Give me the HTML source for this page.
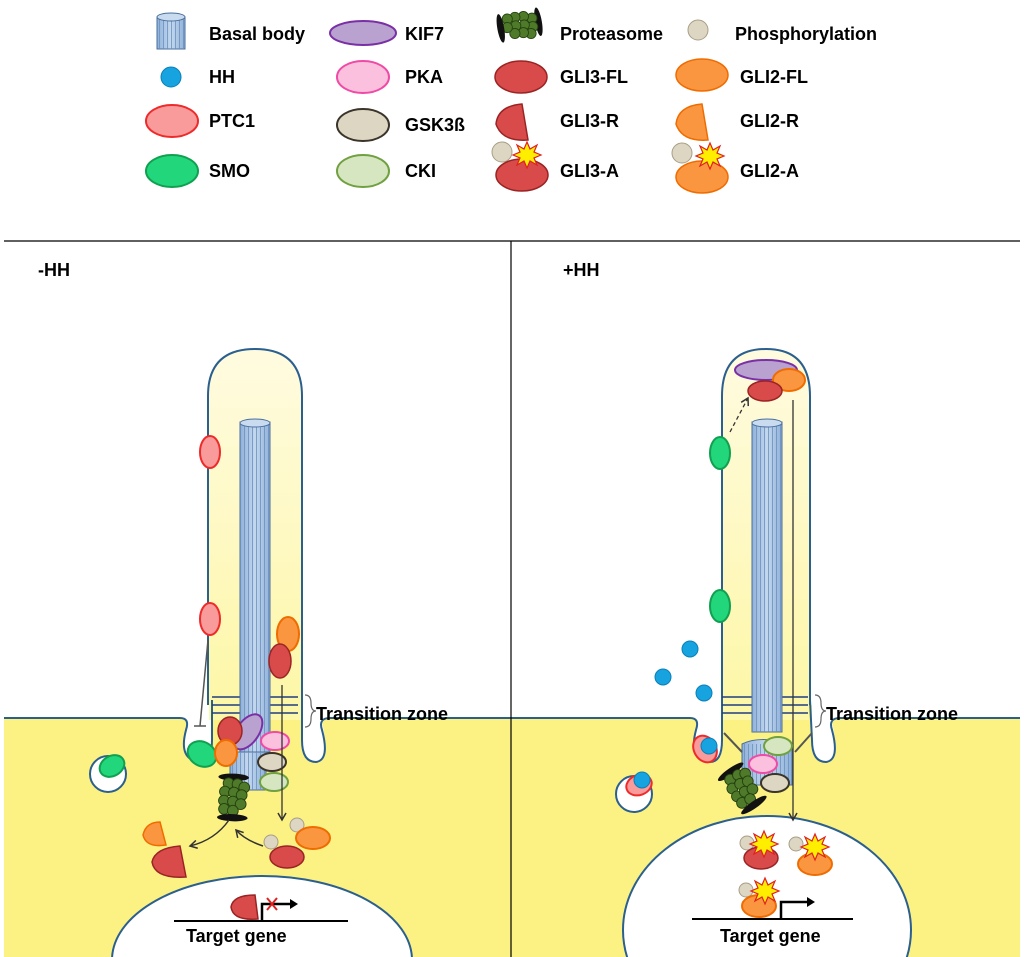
<!DOCTYPE html>
<html><head><style>
html,body{margin:0;background:#fff;overflow:hidden;width:1024px;height:957px}
svg{display:block;font-family:"Liberation Sans",sans-serif}
.t{font-weight:bold;font-size:18px;fill:#000}
</style></head><body>
<svg width="1024" height="957" viewBox="0 0 1024 957">
<defs>
<linearGradient id="cg" x1="0" y1="0" x2="0" y2="1"><stop offset="0" stop-color="#fffbe0"/><stop offset="1" stop-color="#fdf7a8"/></linearGradient>
<linearGradient id="ax" x1="0" y1="0" x2="1" y2="0"><stop offset="0" stop-color="#8fb1d8"/><stop offset=".5" stop-color="#c4d8ee"/><stop offset="1" stop-color="#8fb1d8"/></linearGradient>
<pattern id="st" width="4" height="10" patternUnits="userSpaceOnUse"><line x1="0.5" y1="0" x2="0.5" y2="10" stroke="#6a8fbf" stroke-width="0.8"/></pattern>
<marker id="ar" markerWidth="10" markerHeight="10" refX="8" refY="5" orient="auto" markerUnits="userSpaceOnUse"><path d="M1,1 L8,5 L1,9" fill="none" stroke="#333" stroke-width="1.5"/></marker>
<g id="prot"><ellipse cx="0" cy="-22" rx="17" ry="4" fill="#111" transform="rotate(-10)"/>
<g fill="#4e7a2a" stroke="#24400f" stroke-width="1">
<circle cx="-8" cy="-14" r="6"/><circle cx="2" cy="-15" r="6"/><circle cx="10" cy="-13" r="6"/>
<circle cx="-10" cy="-4" r="6"/><circle cx="0" cy="-5" r="6"/><circle cx="9" cy="-4" r="6"/>
<circle cx="-9" cy="6" r="6"/><circle cx="1" cy="5" r="6"/><circle cx="10" cy="6" r="6"/>
<circle cx="-7" cy="15" r="6"/><circle cx="3" cy="15" r="6"/></g>
<ellipse cx="0" cy="23" rx="17" ry="4" fill="#111" transform="rotate(-10)"/></g>
<g id="star"><polygon points="0,-13 3,-6 10,-10 7,-3 14,0 7,3 10,10 3,6 0,13 -3,6 -10,10 -7,3 -14,0 -7,-3 -10,-10 -3,-6" fill="#ffee00" stroke="#e02020" stroke-width="1.2"/></g>
<g id="bb"><rect x="-14" y="-16" width="28" height="32" fill="url(#ax)" stroke="#4a6f9d"/><rect x="-14" y="-16" width="28" height="32" fill="url(#st)"/><ellipse cx="0" cy="-16" rx="14" ry="4" fill="#c8dbef" stroke="#4a6f9d"/></g>
</defs>

<!-- Legend -->
<use href="#bb" x="171" y="33"/>
<text class="t" x="209" y="40">Basal body</text>
<circle cx="171" cy="77" r="10" fill="#16a3e0" stroke="#0b7fb8"/>
<text class="t" x="209" y="83">HH</text>
<ellipse cx="172" cy="121" rx="26" ry="16" fill="#f99b9b" stroke="#ee2a2a" stroke-width="2"/>
<text class="t" x="209" y="127">PTC1</text>
<ellipse cx="172" cy="171" rx="26" ry="16" fill="#22d67c" stroke="#10a050" stroke-width="2"/>
<text class="t" x="209" y="177">SMO</text>

<ellipse cx="363" cy="33" rx="33" ry="12" fill="#b9a2cf" stroke="#7a2fa6" stroke-width="2"/>
<text class="t" x="405" y="40">KIF7</text>
<ellipse cx="363" cy="77" rx="26" ry="16" fill="#fbc0de" stroke="#ef4aa6" stroke-width="2"/>
<text class="t" x="405" y="83">PKA</text>
<ellipse cx="363" cy="125" rx="26" ry="16" fill="#ddd6c3" stroke="#3a342a" stroke-width="2"/>
<text class="t" x="405" y="131">GSK3ß</text>
<ellipse cx="363" cy="171" rx="26" ry="16" fill="#d5e6c0" stroke="#70a040" stroke-width="2"/>
<text class="t" x="405" y="177">CKI</text>

<g transform="translate(520,25) rotate(90) scale(0.85)"><use href="#prot"/></g>
<text class="t" x="560" y="40">Proteasome</text>
<ellipse cx="521" cy="77" rx="26" ry="16" fill="#d94b4b" stroke="#9a2424" stroke-width="1.5"/>
<text class="t" x="560" y="83">GLI3-FL</text>
<path d="M496,124 Q498,106 522,104 L528,140 Q502,142 496,124Z" fill="#d94b4b" stroke="#9a2424" stroke-width="1.5"/>
<text class="t" x="560" y="127">GLI3-R</text>
<circle cx="502" cy="152" r="10" fill="#ddd6c3" stroke="#a89e86"/>
<ellipse cx="522" cy="175" rx="26" ry="16" fill="#d94b4b" stroke="#9a2424" stroke-width="1.5"/>
<use href="#star" x="527" y="155"/>
<text class="t" x="560" y="177">GLI3-A</text>

<circle cx="698" cy="30" r="10" fill="#ddd6c3" stroke="#a89e86"/>
<text class="t" x="735" y="40">Phosphorylation</text>
<ellipse cx="702" cy="75" rx="26" ry="16" fill="#fb9640" stroke="#ef6c00" stroke-width="1.5"/>
<text class="t" x="740" y="83">GLI2-FL</text>
<path d="M676,124 Q678,106 702,104 L708,140 Q682,142 676,124Z" fill="#fb9640" stroke="#ef6c00" stroke-width="1.5"/>
<text class="t" x="740" y="127">GLI2-R</text>
<circle cx="682" cy="153" r="10" fill="#ddd6c3" stroke="#a89e86"/>
<ellipse cx="702" cy="177" rx="26" ry="16" fill="#fb9640" stroke="#ef6c00" stroke-width="1.5"/>
<use href="#star" x="710" y="156"/>
<text class="t" x="740" y="177">GLI2-A</text>

<!-- cytoplasm fill -->
<path d="M4,718 L180,718 Q190,718 186,730 Q178,760 200,762 Q212,762 212,740 L212,705 L302,705 L302,740 Q302,762 316,762 Q330,760 322,730 Q318,718 330,718 L690,718 Q700,718 696,730 Q688,760 710,762 Q722,762 722,740 L722,705 L812,705 L812,740 Q812,762 826,762 Q840,760 832,730 Q828,718 840,718 L1020,718 L1020,957 L4,957Z" fill="#fcf283"/>
<!-- pockets white -->
<path d="M187,722 Q178,760 200,762 Q213,762 212,740 L212,718Z" fill="#fff"/>
<path d="M302,718 L302,740 Q302,762 316,762 Q330,760 322,722Z" fill="#fff"/>
<path d="M697,722 Q688,760 710,762 Q723,762 722,740 L722,718Z" fill="#fff"/>
<path d="M812,718 L812,740 Q812,762 826,762 Q840,760 832,722Z" fill="#fff"/>

<!-- cilia -->
<path d="M208,705 L208,396 Q208,349 255,349 Q302,349 302,396 L302,705" fill="url(#cg)" stroke="#2b5f8e" stroke-width="2"/>
<path d="M722,705 L722,396 Q722,349 766,349 Q810,349 810,396 L810,705" fill="url(#cg)" stroke="#2b5f8e" stroke-width="2"/>
<rect x="209" y="704" width="92" height="16" fill="#fdf7a8"/>
<rect x="723" y="704" width="86" height="16" fill="#fdf7a8"/>
<!-- membrane lines -->
<g fill="none" stroke="#2b5f8e" stroke-width="2">
<path d="M4,718 L180,718 Q190,718 186,730 Q178,760 200,762 Q212,762 212,740 L212,700"/>
<path d="M302,700 L302,740 Q302,762 316,762 Q330,760 322,730 Q318,718 330,718 L690,718 Q700,718 696,730 Q688,760 710,762 Q722,762 722,740 L722,700"/>
<path d="M810,700 L812,740 Q812,762 826,762 Q840,760 832,730 Q828,718 840,718 L1020,718"/>
</g>
<!-- transition zones -->
<g stroke="#1e3f80" stroke-width="1.5" fill="none">
<path d="M212,697 H240 M212,705 H240 M212,713 H240 M270,697 H298 M270,705 H298 M270,713 H298"/>
<path d="M722,697 H752 M722,705 H752 M722,713 H752 M782,697 H808 M782,705 H808 M782,713 H808"/>
</g>
<path d="M305,695 Q311,695 311,703 Q311,711 316,711 Q311,711 311,719 Q311,727 305,727" fill="none" stroke="#666" stroke-width="1.2"/>
<text class="t" x="316" y="720">Transition zone</text>
<path d="M815,695 Q821,695 821,703 Q821,711 826,711 Q821,711 821,719 Q821,727 815,727" fill="none" stroke="#666" stroke-width="1.2"/>
<text class="t" x="826" y="720">Transition zone</text>

<!-- axonemes -->
<rect x="240" y="422" width="30" height="330" fill="url(#ax)" stroke="#4a6f9d"/><rect x="240" y="422" width="30" height="330" fill="url(#st)"/>
<ellipse cx="255" cy="423" rx="15" ry="4" fill="#c8dbef" stroke="#4a6f9d"/>
<rect x="230" y="752" width="36" height="38" fill="url(#ax)" stroke="#4a6f9d"/><rect x="230" y="752" width="36" height="38" fill="url(#st)"/>
<rect x="752" y="422" width="30" height="310" fill="url(#ax)" stroke="#4a6f9d"/><rect x="752" y="422" width="30" height="310" fill="url(#st)"/>
<ellipse cx="767" cy="423" rx="15" ry="4" fill="#c8dbef" stroke="#4a6f9d"/>
<path d="M742,744 Q760,735 792,744 L792,785 L742,785Z" fill="url(#ax)" stroke="#4a6f9d"/><rect x="742" y="744" width="50" height="41" fill="url(#st)"/>

<!-- separators -->
<line x1="4" y1="241" x2="1020" y2="241" stroke="#000" stroke-width="1.2"/>
<line x1="511" y1="241" x2="511" y2="957" stroke="#000" stroke-width="1.2"/>
<text class="t" x="38" y="276">-HH</text>
<text class="t" x="563" y="276">+HH</text>

<!-- nuclei -->
<ellipse cx="262" cy="960" rx="150" ry="84" fill="#fff" stroke="#2b5f8e" stroke-width="2"/>
<ellipse cx="767" cy="930" rx="144" ry="114" fill="#fff" stroke="#2b5f8e" stroke-width="2"/>

<!-- LEFT contents -->
<ellipse cx="210" cy="452" rx="10" ry="16" fill="#f99b9b" stroke="#ee2a2a" stroke-width="2"/>
<ellipse cx="210" cy="619" rx="10" ry="16" fill="#f99b9b" stroke="#ee2a2a" stroke-width="2"/>
<ellipse cx="288" cy="634" rx="11" ry="17" fill="#fb9640" stroke="#ef6c00" stroke-width="2"/>
<ellipse cx="280" cy="661" rx="11" ry="17" fill="#d94b4b" stroke="#9a2424" stroke-width="1.5"/>
<path d="M208,640 L200,726 M194,726 H206" stroke="#555" stroke-width="1.5" fill="none"/>
<ellipse cx="202" cy="754" rx="15" ry="12" fill="#22d67c" stroke="#10a050" stroke-width="2" transform="rotate(30 202 754)"/>
<ellipse cx="242" cy="730" rx="11" ry="20" fill="#b9a2cf" stroke="#7a2fa6" stroke-width="2" transform="rotate(35 242 740)"/>
<ellipse cx="230" cy="731" rx="12" ry="14" fill="#d94b4b" stroke="#9a2424" stroke-width="1.5"/>
<ellipse cx="226" cy="753" rx="11" ry="13" fill="#fb9640" stroke="#ef6c00" stroke-width="2"/>
<ellipse cx="275" cy="741" rx="14" ry="9" fill="#fbc0de" stroke="#ef4aa6" stroke-width="2"/>
<ellipse cx="272" cy="762" rx="14" ry="9" fill="#ddd6c3" stroke="#3a342a" stroke-width="2"/>
<ellipse cx="274" cy="782" rx="14" ry="9" fill="#d5e6c0" stroke="#70a040" stroke-width="2"/>
<line x1="282" y1="685" x2="282" y2="820" stroke="#333" stroke-width="1.3" marker-end="url(#ar)"/>
<g transform="translate(233,797) rotate(12) scale(0.9)"><use href="#prot"/></g>
<path d="M229,820 Q215,840 190,846" fill="none" stroke="#333" stroke-width="1.5" marker-end="url(#ar)"/>
<path d="M263,846 Q245,840 236,830" fill="none" stroke="#333" stroke-width="1.5" marker-end="url(#ar)"/>
<circle cx="108" cy="774" r="18" fill="#fff" stroke="#2b5f8e" stroke-width="2"/>
<ellipse cx="112" cy="766" rx="13" ry="10" fill="#22d67c" stroke="#10a050" stroke-width="2" transform="rotate(-30 112 766)"/>
<path d="M143,835 Q146,822 160,822 L166,845 Q146,848 143,835Z" fill="#fb9640" stroke="#ef6c00" stroke-width="1.5"/>
<path d="M152,862 Q155,848 180,846 L186,877 Q155,879 152,862Z" fill="#d94b4b" stroke="#9a2424" stroke-width="1.5"/>
<circle cx="297" cy="825" r="7" fill="#ddd6c3" stroke="#a89e86"/>
<circle cx="271" cy="842" r="7" fill="#ddd6c3" stroke="#a89e86"/>
<ellipse cx="313" cy="838" rx="17" ry="11" fill="#fb9640" stroke="#ef6c00" stroke-width="2"/>
<ellipse cx="287" cy="857" rx="17" ry="11" fill="#d94b4b" stroke="#9a2424" stroke-width="1.5"/>
<!-- left nucleus gene -->
<path d="M231,907 Q233,895 255,895 L258,919 Q233,921 231,907Z" fill="#d94b4b" stroke="#9a2424" stroke-width="1.5"/>
<line x1="174" y1="921" x2="348" y2="921" stroke="#000" stroke-width="2"/>
<path d="M262,921 V904 H293" stroke="#000" stroke-width="2.5" fill="none"/>
<path d="M290,899 L298,904 L290,909Z" fill="#000"/>
<path d="M267,898 L277,910 M277,898 L267,910" stroke="#e02020" stroke-width="2"/>
<text class="t" x="186" y="942">Target gene</text>

<!-- RIGHT contents -->
<ellipse cx="766" cy="370" rx="31" ry="10" fill="#b9a2cf" stroke="#7a2fa6" stroke-width="2"/>
<ellipse cx="789" cy="380" rx="16" ry="11" fill="#fb9640" stroke="#ef6c00" stroke-width="2"/>
<ellipse cx="765" cy="391" rx="17" ry="10" fill="#d94b4b" stroke="#9a2424" stroke-width="1.5"/>
<path d="M730,432 L748,398" stroke="#333" stroke-width="1.3" stroke-dasharray="4,3" fill="none" marker-end="url(#ar)"/>
<ellipse cx="720" cy="453" rx="10" ry="16" fill="#22d67c" stroke="#10a050" stroke-width="2"/>
<ellipse cx="720" cy="606" rx="10" ry="16" fill="#22d67c" stroke="#10a050" stroke-width="2"/>
<line x1="793" y1="400" x2="793" y2="820" stroke="#333" stroke-width="1.3" marker-end="url(#ar)"/>
<circle cx="690" cy="649" r="8" fill="#16a3e0" stroke="#0b7fb8"/>
<circle cx="663" cy="677" r="8" fill="#16a3e0" stroke="#0b7fb8"/>
<circle cx="704" cy="693" r="8" fill="#16a3e0" stroke="#0b7fb8"/>
<path d="M724,733 L742,752 M812,733 L795,752" stroke="#555" stroke-width="2"/>
<ellipse cx="705" cy="749" rx="11" ry="14" fill="#f99b9b" stroke="#ee2a2a" stroke-width="2" transform="rotate(-30 705 749)"/>
<circle cx="709" cy="746" r="8" fill="#16a3e0" stroke="#0b7fb8"/>
<circle cx="634" cy="794" r="18" fill="#fff" stroke="#2b5f8e" stroke-width="2"/>
<ellipse cx="639" cy="785" rx="13" ry="10" fill="#f99b9b" stroke="#ee2a2a" stroke-width="2" transform="rotate(-20 639 785)"/>
<circle cx="642" cy="780" r="8" fill="#16a3e0" stroke="#0b7fb8"/>
<g transform="translate(742,788) rotate(-25) scale(0.9)"><use href="#prot"/></g>
<ellipse cx="778" cy="746" rx="14" ry="9" fill="#d5e6c0" stroke="#70a040" stroke-width="2"/>
<ellipse cx="763" cy="764" rx="14" ry="9" fill="#fbc0de" stroke="#ef4aa6" stroke-width="2"/>
<ellipse cx="775" cy="783" rx="14" ry="9" fill="#ddd6c3" stroke="#3a342a" stroke-width="2"/>
<!-- right nucleus -->
<circle cx="747" cy="843" r="7" fill="#ddd6c3" stroke="#a89e86"/>
<ellipse cx="761" cy="858" rx="17" ry="11" fill="#d94b4b" stroke="#9a2424" stroke-width="1.5"/>
<use href="#star" x="764" y="844"/>
<circle cx="796" cy="844" r="7" fill="#ddd6c3" stroke="#a89e86"/>
<ellipse cx="815" cy="864" rx="17" ry="11" fill="#fb9640" stroke="#ef6c00" stroke-width="2"/>
<use href="#star" x="815" y="847"/>
<circle cx="746" cy="890" r="7" fill="#ddd6c3" stroke="#a89e86"/>
<ellipse cx="759" cy="906" rx="17" ry="11" fill="#fb9640" stroke="#ef6c00" stroke-width="2"/>
<use href="#star" x="765" y="891"/>
<line x1="692" y1="919" x2="853" y2="919" stroke="#000" stroke-width="2"/>
<path d="M781,919 V902 H810" stroke="#000" stroke-width="2.5" fill="none"/>
<path d="M807,897 L815,902 L807,907Z" fill="#000"/>
<text class="t" x="720" y="942">Target gene</text>
</svg>
</body></html>
